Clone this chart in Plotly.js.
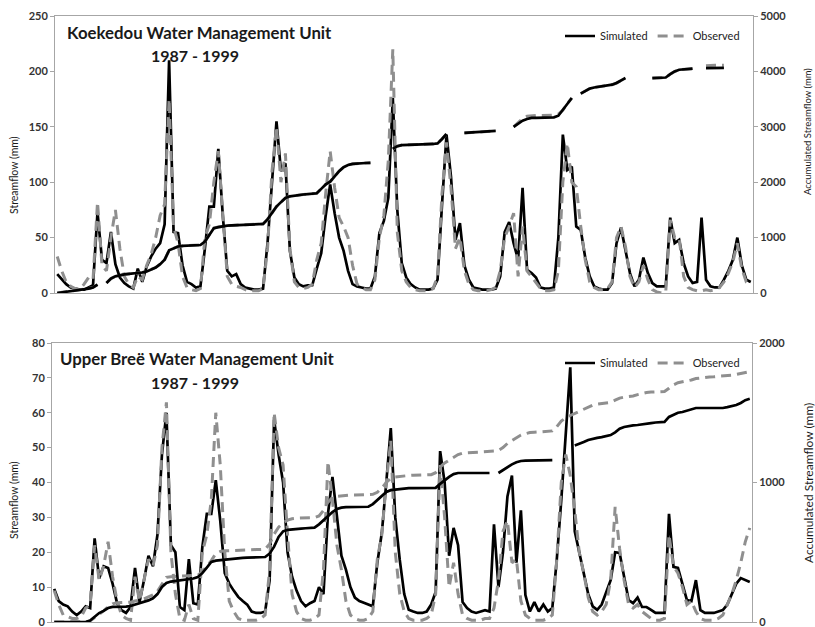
<!DOCTYPE html>
<html><head><meta charset="utf-8">
<script src="https://cdn.plot.ly/plotly-3.0.1.min.js"></script>
<style>html,body{margin:0;padding:0;background:#fff}#chart{width:815px;height:627px}</style>
</head><body><div id="chart"></div>
<script>
// Koekedou monthly streamflow (mm), 1987-1999 (156 months)
const topSim = [
 17,12,8,5,4,3,3,5,7,73,
 30,27,55,26,14,9,6,4,22,10,
 24,33,40,45,62,210,55,54,25,10,
 8,5,6,40,78,78,130,70,20,15,
 17,8,5,4,3,3,4,45,96,155,
 110,117,38,14,8,6,7,7,22,36,
 70,98,72,50,38,20,8,6,5,4,
 4,15,54,65,86,176,75,27,14,8,
 5,3,3,3,4,12,80,143,105,48,
 63,25,12,5,4,3,3,3,4,15,
 55,64,45,30,95,21,18,14,5,4,
 4,5,50,143,111,114,60,57,32,15,
 6,4,3,3,9,45,59,39,18,6,
 12,32,18,9,6,6,6,68,45,48,
 27,15,9,10,68,12,6,5,5,12,
 20,30,50,25,12,10];
const topObs = [
 33,20,10,6,4,3,8,14,12,82,
 25,20,50,75,40,15,8,5,15,12,
 25,35,50,70,80,175,60,45,15,5,
 3,2,4,50,62,100,128,75,15,8,
 6,5,3,2,2,2,4,40,110,150,
 100,126,40,10,5,4,5,8,30,45,
 90,128,95,68,60,50,25,8,5,3,
 3,12,50,70,120,220,55,20,10,5,
 3,2,2,2,4,15,90,136,95,40,
 50,20,8,3,2,2,2,3,5,20,
 50,60,72,15,60,20,15,10,4,2,
 2,3,20,100,135,100,96,60,30,10,
 5,3,3,4,10,50,60,42,15,5,
 10,25,12,3,1,0,1,66,50,50,
 15,5,3,2,2,3,2,3,5,10,
 18,28,45,22,10,8];
// Koekedou accumulated streamflow (mm); null = missing
const topAccSim = [
 0,10,20,30,40,50,60,80,100,150,
 null,180,260,300,320,335,345,350,360,370,
 390,420,460,520,600,770,810,840,850,855,
 860,862,866,930,1050,1170,1190,1205,1215,1220,
 1225,1228,1232,1236,1240,1243,1246,1330,1450,1560,
 1640,1715,1745,1760,1770,1778,1785,1792,1800,1880,
 1960,2010,2110,2200,2270,2310,2330,2340,2345,2347,
 2350,null,null,null,null,2600,2650,2670,2675,2680,
 2682,2684,2686,2688,2690,2700,2780,2870,null,null,
 null,2890,2895,2900,2905,2910,2915,2920,2925,null,
 null,null,3000,3060,3110,3140,3160,3160,3162,3164,
 3166,3170,3200,3300,3420,3520,null,3600,3650,3690,
 3710,3725,3740,3750,3760,3790,3840,3880,null,null,
 null,null,null,3880,3880,3885,3890,3950,4000,4030,
 4040,4045,4050,null,null,4060,4060,4060,4062,4065,
 null,null,null,null,null,null];
const topAccObs = [
 0,10,20,30,40,50,60,80,100,150,
 null,180,260,300,320,335,345,350,360,370,
 390,420,460,520,600,770,810,840,850,855,
 860,862,866,930,1050,1170,1190,1205,1215,1220,
 1225,1228,1232,1236,1240,1243,1246,1330,1450,1560,
 1640,1715,1745,1760,1770,1778,1785,1792,1800,1880,
 1960,2010,2110,2200,2270,2310,2330,2340,2345,2347,
 2350,null,null,null,null,2600,2650,2670,2675,2680,
 2682,2684,2686,2688,2690,2700,2780,2870,null,null,
 null,2890,2895,2900,2905,2910,2915,2920,2925,null,
 null,null,3000,3080,3150,3190,3200,3205,3205,3205,
 3205,3210,3230,3300,3420,3520,null,3600,3650,3690,
 3710,3725,3740,3750,3760,3790,3840,3880,null,null,
 null,null,null,3880,3880,3885,3890,3950,4000,4030,
 4040,4045,4050,null,null,4100,4110,4110,4110,4112,
 null,null,null,null,null,null];
// Upper Bree monthly streamflow (mm)
const botSim = [
 9.5,6,5,4.5,3,2,3,4.5,4,24,
 12.5,16,15.5,11,5.4,3.4,2.6,4.3,15.5,5.7,
 12,19,16,25,48,60,22,20,4.3,3.4,
 18,5.4,5,21.5,31,31,40.7,29,14,11,
 9,7.2,6,5,3,2.6,2.6,3,12,58,
 48,40,20,13,9,6,4.5,5.4,6,10,
 8,31,41.6,30,19,15,10,7,6,5.5,
 5,4.5,17,25.5,40,55.6,30,17.8,8,3.5,
 3,2.6,2.6,3,5,8.6,49,40,19,27,
 22,5.7,4,3,2.6,3,3.4,3,28,10,
 20,36,42,17,32,7.7,3,5.7,3,5,
 3,4,18,35,55,73,26,20,15,8,
 4.5,3.5,5,8.3,12,20,19.8,13,6.3,5.4,
 7,4.3,4.3,3.5,2.6,2.6,2.6,31,15.8,15.5,
 11,6.3,6,12,3.4,2.6,2.6,2.6,3,3.4,
 5,8,11,12.6,12,11.5];
const botObs = [
 9,5,2,1.5,1,1,1.5,4,5,22,
 12,16,23,13,6,2,1,0.5,13,6,
 12,18,16,22,50,63,20,8,1,0.5,
 5,1,0.5,20,25,35,60,45,20,6,
 3,1,0.5,0.5,0.5,0.5,1,2,15,60,
 50,45,25,8,3,1,0.5,0.5,1,2,
 15,46,35,22,15,6,2,1,0.5,0.5,
 1,3,18,25,40,52,20,8,3,1,
 0.5,0.5,0.5,1,2,8,45,30,10,17,
 8,2,1,0.5,0.5,0.5,1,1,4,12,
 26,29,17,18,6,2,1,0.5,0.5,0.5,
 1,2,18,40,48,42,32,20,14,7,
 3,2,3,5,12,33,21,12,5,4,
 5,3,2,1,0.5,0.5,1,25,16,14,
 10,5,6,3,1,0.5,0.5,0.5,1,2,
 5,8,12,17,23,27];
// Upper Bree accumulated streamflow (mm)
const botAccSim = [
 0,0,0,0,0,0,0,0,10,40,
 64,80,100,108,108,108,110,115,125,132,
 140,155,170,200,251,280,290,295,298,300,
 305,312,322,350,390,430,440,444,446,450,
 455,458,460,462,463,464,465,466,490,540,
 610,650,660,665,668,670,672,674,676,700,
 731,760,788,810,820,824,824,824,824,825,
 826,845,874,900,932,945,950,955,958,960,
 960,960,960,960,960,962,990,1018,1040,1060,
 1068,1068,1068,1068,1068,1068,1068,1068,null,1068,
 1090,1111,1130,1145,1154,1157,1158,1159,1160,1160,
 1161,1161,null,null,null,null,1265,1275,1290,1305,
 1315,1320,1325,1330,1340,1360,1385,1398,1405,1410,
 1412,1415,1420,1425,1430,1432,1434,1470,1485,1500,
 1505,1515,1525,1534,1534,1534,1534,1534,1534,1534,
 1540,1548,1555,1570,1590,1600];
const botAccObs = [
 0,0,0,0,0,0,0,2,8,30,
 55,80,110,130,138,140,141,142,150,155,
 165,180,195,220,270,320,325,328,330,330,
 332,334,335,360,400,440,490,505,510,512,
 514,515,516,517,518,519,520,522,560,630,
 680,710,730,740,744,745,746,747,748,760,
 800,860,890,900,905,908,910,910,911,912,
 913,915,930,960,1000,1030,1040,1045,1048,1050,
 1052,1053,1054,1055,1056,1070,1110,1140,1160,1180,
 1200,1210,1212,1213,1214,1215,1218,1220,1225,1230,
 1250,1280,1300,1325,1340,1350,1358,1360,1362,1363,
 1364,1370,1400,1440,1465,1480,1495,1510,1530,1545,
 1555,1562,1566,1570,1575,1590,1605,1612,1615,1620,
 1630,1640,1645,1648,1649,1650,1652,1675,1700,1715,
 1720,1725,1735,1745,1750,1755,1757,1758,1760,1762,
 1765,1770,1775,1780,1788,1795];
const months = topSim.map((_, i) => i);
const leftTicksTop = [0,50,100,150,200,250];
const rightTicksTop = [0,1000,2000,3000,4000,5000];
const leftTicksBot = [0,10,20,30,40,50,60,70,80];
const rightTicksBot = [0,1000,2000];

const W = 815, H = 627;
const px = x => x / W, py = y => 1 - y / H;
const FONT = 'Lato, "Open Sans", sans-serif';
const obsColor = '#8f8f8f';
const dashPat = '10px,6px';
const axisGrey = '#a6a6a6';

function lineTrace(y, xa, ya, name, isObs, showlegend, legend) {
  return {x: months, y: y, xaxis: xa, yaxis: ya, name: name, type: 'scatter', mode: 'lines',
    showlegend: showlegend, legend: legend, hoverinfo: 'skip',
    line: isObs ? {color: obsColor, width: 3, dash: dashPat} : {color: '#000', width: 2.7}};
}
const data = [
  lineTrace(topSim, 'x', 'y', 'Simulated', false, true, 'legend'),
  lineTrace(topObs, 'x', 'y', 'Observed', true, true, 'legend'),
  lineTrace(topAccObs, 'x', 'y2', 'Observed', true, false, 'legend'),
  lineTrace(topAccSim, 'x', 'y2', 'Simulated', false, false, 'legend'),
  lineTrace(botSim, 'x2', 'y3', 'Simulated', false, true, 'legend2'),
  lineTrace(botObs, 'x2', 'y3', 'Observed', true, true, 'legend2'),
  lineTrace(botAccObs, 'x2', 'y4', 'Observed', true, false, 'legend2'),
  lineTrace(botAccSim, 'x2', 'y4', 'Simulated', false, false, 'legend2')
];
const tickFont = {family: FONT, size: 11, color: '#333', weight: 'bold'};
function yAx(domain, range, ticks, anchor, extra) {
  return Object.assign({domain: domain, range: range, tickvals: ticks, ticktext: ticks.map(String),
    ticks: 'outside', ticklen: 4, tickcolor: axisGrey, showline: true, linecolor: axisGrey, linewidth: 1,
    showgrid: false, zeroline: false, tickfont: tickFont, anchor: anchor, fixedrange: true,
    ticklabeloverflow: 'allow'}, extra || {});
}
function xAx(domain, anchor) {
  return {domain: domain, range: [-0.5, 155.5], showticklabels: false, ticks: '', showgrid: false,
    zeroline: false, showline: true, linecolor: axisGrey, linewidth: 1, mirror: true, anchor: anchor, fixedrange: true};
}
function ann(text, x, y, size, opts) {
  return Object.assign({text: text, xref: 'paper', yref: 'paper', x: px(x), y: py(y), showarrow: false,
    xanchor: 'center', yanchor: 'middle', font: {family: FONT, size: size, color: '#1a1a1a'}}, opts || {});
}
const titleFont = {family: FONT, size: 16.8, color: '#1a1a1a', weight: 'bold'};
const yearFont = {family: FONT, size: 16, color: '#1a1a1a', weight: 'bold'};
const layout = {
  width: W, height: H, margin: {l: 0, r: 0, t: 0, b: 0}, paper_bgcolor: '#fff', plot_bgcolor: '#fff',
  xaxis: xAx([px(55), px(753)], 'y'),
  yaxis: yAx([py(293), py(16)], [0, 250], leftTicksTop, 'x'),
  yaxis2: yAx([py(293), py(16)], [0, 5000], rightTicksTop, 'x', {overlaying: 'y', side: 'right'}),
  xaxis2: xAx([px(52), px(752)], 'y3'),
  yaxis3: yAx([py(622), py(343)], [0, 80], leftTicksBot, 'x2'),
  yaxis4: yAx([py(622), py(343)], [0, 2000], rightTicksBot, 'x2', {overlaying: 'y3', side: 'right'}),
  legend: {orientation: 'h', x: px(745), xanchor: 'right', y: py(36), yanchor: 'middle',
    bgcolor: 'rgba(0,0,0,0)', font: {family: FONT, size: 11, color: '#222'}, traceorder: 'normal'},
  legend2: {orientation: 'h', x: px(745), xanchor: 'right', y: py(363), yanchor: 'middle',
    bgcolor: 'rgba(0,0,0,0)', font: {family: FONT, size: 11, color: '#222'}, traceorder: 'normal'},
  annotations: [
    ann('Koekedou Water Management Unit', 65, 33, 16.8, {xanchor: 'left', font: titleFont}),
    ann('1987 - 1999', 195, 55, 16, {font: yearFont}),
    ann('Upper Breë Water Management Unit', 58, 358, 16.8, {xanchor: 'left', font: titleFont}),
    ann('1987 - 1999', 195, 382, 16, {font: yearFont}),
    ann('Streamflow (mm)', 14, 175, 10.5, {textangle: -90}),
    ann('Accumulated Streamflow (mm)', 807, 132, 9.5, {textangle: -90}),
    ann('Streamflow (mm)', 14, 500, 10.5, {textangle: -90}),
    ann('Accumulated Streamflow (mm)', 808, 483, 12, {textangle: -90})
  ]
};
Plotly.newPlot('chart', data, layout, {displayModeBar: false, staticPlot: true});
</script></body></html>
